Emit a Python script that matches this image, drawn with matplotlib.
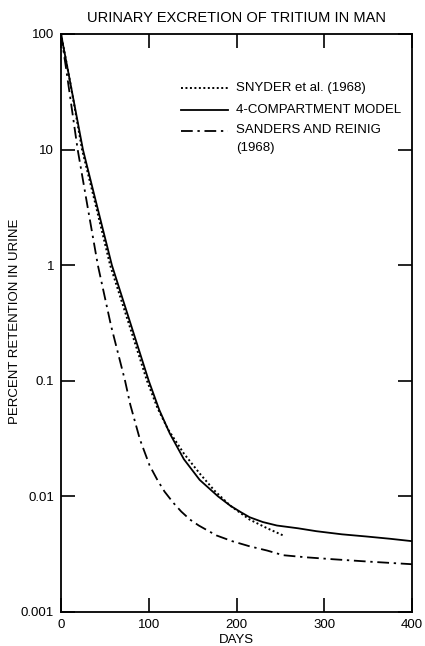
import matplotlib
matplotlib.use("Agg")
import matplotlib.pyplot as plt
from matplotlib.lines import Line2D

plt.rcParams['font.family'] = ['Liberation Sans', 'DejaVu Sans']

# Snyder et al. (1968)
snyder_days = [0, 10, 24, 40, 56, 78, 98, 110, 122, 140, 158, 175, 193, 215, 235, 253]
snyder_pct = [100, 40, 10, 3.2, 1.0, 0.3, 0.1, 0.058, 0.038, 0.0235, 0.0158, 0.0112, 0.0083, 0.0063,
              0.0053, 0.0046]

# 4-compartment model
model_days = [0, 10, 25, 40, 58, 80, 100, 112, 124, 140, 158, 179, 193, 205, 215, 230, 246, 270,
              291, 320, 348, 375, 400]
model_pct = [100, 40, 10, 3.5, 1.0, 0.3, 0.1, 0.056, 0.035, 0.021, 0.0139, 0.0100, 0.0083, 0.0073,
             0.0066, 0.0060, 0.0056, 0.0053, 0.0050, 0.0047, 0.0045, 0.0043, 0.0041]

# Sanders and Reinig (1968)
sanders_days = [0, 6, 19, 30, 42, 57, 73, 79, 90, 101, 110, 118, 128, 137, 147, 157, 177, 195, 215,
                235, 253, 280, 310, 350, 400]
sanders_pct = [100, 49, 10, 3.3, 1.0, 0.3, 0.1, 0.062, 0.031, 0.0185, 0.0138, 0.011, 0.0088, 0.0074,
               0.0063, 0.0056, 0.0046, 0.0041, 0.0037, 0.0034, 0.0031, 0.00297, 0.00286, 0.00273,
               0.00259]

x_ticks = [0, 100, 200, 300, 400]
y_ticks = [0.001, 0.01, 0.1, 1, 10, 100]
y_tick_labels = ['0.001', '0.01', '0.1', '1', '10', '100']

labels = ['SNYDER et al. (1968)', '4-COMPARTMENT MODEL', 'SANDERS AND REINIG\n(1968)']

fig = plt.figure(figsize=(4.25, 6.46), dpi=100)
ax = fig.add_axes([61 / 425, 34 / 646, 351 / 425, 578 / 646])

dotted = (0, (1.0, 1.3))
dashdot = (0, (6.5, 2.6, 1.3, 2.6))

ax.plot(snyder_days, snyder_pct, color='black', lw=1.4, linestyle=dotted)
ax.plot(model_days, model_pct, color='black', lw=1.3, linestyle='-')
ax.plot(sanders_days, sanders_pct, color='black', lw=1.3, linestyle=dashdot)

ax.set_yscale('log')
ax.set_xlim(0, 400)
ax.set_ylim(0.001, 100)
ax.set_xticks(x_ticks)
ax.set_xticklabels([str(t) for t in x_ticks])
ax.set_yticks(y_ticks)
ax.set_yticklabels(y_tick_labels)
ax.minorticks_off()
ax.tick_params(axis='both', which='major', direction='in', length=10, width=1.2,
               top=True, right=True, labelsize=9.5, pad=5)
for side in ax.spines.values():
    side.set_linewidth(1.3)

ax.set_xlabel('DAYS', fontsize=9.5, labelpad=2)
ax.set_ylabel('PERCENT RETENTION IN URINE', fontsize=9.5)
ax.yaxis.set_label_coords(-0.113, 0.503)
ax.set_title('URINARY EXCRETION OF TRITIUM IN MAN', fontsize=10.5, pad=9)

# key, drawn in axes fraction coordinates
styles = [dict(lw=1.4, linestyle=dotted), dict(lw=1.3, linestyle='-'), dict(lw=1.3, linestyle=dashdot)]
key_x0, key_x1, key_tx = (181 - 61) / 351, (228 - 61) / 351, (236 - 61) / 351
key_rows = [(612 - 88) / 578, (612 - 110) / 578, (612 - 131) / 578]
for lab, st, yy in zip(labels, styles, key_rows):
    ax.add_line(Line2D([key_x0, key_x1], [yy, yy], transform=ax.transAxes, color='black', **st))
    if '\n' in lab:
        ax.text(key_tx, yy + 7.0 / 578, lab, transform=ax.transAxes, fontsize=9.5, va='top',
                ha='left', linespacing=1.65)
    else:
        ax.text(key_tx, yy, lab, transform=ax.transAxes, fontsize=9.5, va='center', ha='left')

fig.savefig('out.png', dpi=100)
